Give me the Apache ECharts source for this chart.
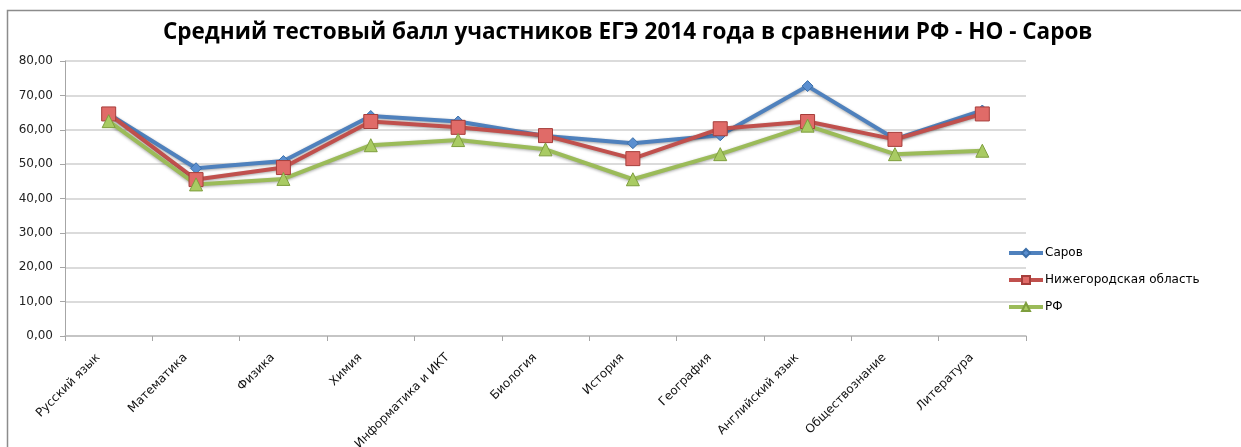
<!DOCTYPE html>
<html><head><meta charset="utf-8">
<script src="https://cdn.jsdelivr.net/npm/echarts@6/dist/echarts.min.js"></script>
<style>html,body{margin:0;padding:0;background:#fff}#c{width:1241px;height:447px}</style>
</head><body><div id="c"></div>
<script>
const categories = ["Русский язык","Математика","Физика","Химия","Информатика и ИКТ","Биология","История","География","Английский язык","Обществознание","Литература"];
const sarov = [64.6, 48.8, 50.9, 64.0, 62.4, 58.2, 56.1, 58.4, 72.7, 57.3, 65.6];
const nizhny = [64.6, 45.5, 49.0, 62.4, 60.7, 58.3, 51.6, 60.3, 62.4, 57.2, 64.6];
const rf = [62.5, 44.1, 45.7, 55.5, 57.0, 54.3, 45.6, 52.9, 61.2, 52.9, 53.9];
const seriesNames = ["Саров","Нижегородская область","РФ"];
const title = "Средний тестовый балл участников ЕГЭ 2014 года в сравнении РФ - НО - Саров";

const chart = echarts.init(document.getElementById('c'), null, {renderer:'canvas'});
const font = "'DejaVu Sans', sans-serif";
const shadow = {shadowColor:'rgba(0,0,0,0.35)', shadowBlur:3, shadowOffsetY:1};
chart.setOption({
  animation:false,
  textStyle:{fontFamily:font},
  graphic:[{type:'rect', shape:{x:7.5,y:10.5,width:1400,height:600}, style:{fill:'none', stroke:'#8c8c8c', lineWidth:1.5}, silent:true}],
  title:{text:title, left:163, top:21, padding:0, textStyle:{fontFamily:"'Open Sans', sans-serif", fontSize:22.5, fontWeight:'bold', color:'#000'}},
  legend:{orient:'vertical', left:1007, top:247, padding:0, itemWidth:34, itemHeight:10, itemGap:15,
    lineStyle:{width:4, shadowBlur:0, shadowOffsetY:0, shadowColor:'transparent'},
    textStyle:{fontFamily:font, fontSize:12, color:'#000', padding:[0,0,0,-3]},
    data:seriesNames},
  grid:{left:65, right:215, top:61, bottom:111, outerBoundsMode:'none', containLabel:false},
  xAxis:{type:'category', data:categories, boundaryGap:true,
    axisLine:{lineStyle:{color:'#bfbfbf', width:1.5}},
    axisTick:{show:true, length:5, lineStyle:{color:'#a6a6a6'}},
    axisLabel:{rotate:45, interval:0, fontSize:12, color:'#111', margin:9, padding:[0,15,0,0], fontFamily:font}},
  yAxis:{type:'value', min:0, max:80, interval:10,
    axisLine:{show:true, lineStyle:{color:'#a6a6a6'}},
    axisTick:{show:true, length:5, lineStyle:{color:'#a6a6a6'}},
    splitLine:{lineStyle:{color:'#cfcfcf', width:1.5}},
    axisLabel:{fontSize:12, color:'#222', margin:12, fontFamily:font, formatter:v=>v.toFixed(2).replace('.',',')}},
  series:[
    {name:seriesNames[0], type:'line', data:sarov, symbol:'diamond', symbolSize:11,
      lineStyle:{color:'#4F81BD', width:4, ...shadow}, itemStyle:{color:'#5B8FD0', borderColor:'#3b6ea8', borderWidth:1}},
    {name:seriesNames[1], type:'line', data:nizhny, symbol:'rect', symbolSize:14,
      lineStyle:{color:'#C0504D', width:4, ...shadow}, itemStyle:{color:'#E06B68', borderColor:'#A63E3B', borderWidth:1}},
    {name:seriesNames[2], type:'line', data:rf, symbol:'triangle', symbolSize:13,
      lineStyle:{color:'#9BBB59', width:4, ...shadow}, itemStyle:{color:'#A9CB63', borderColor:'#7E9E3E', borderWidth:1}}
  ]
});
</script></body></html>
